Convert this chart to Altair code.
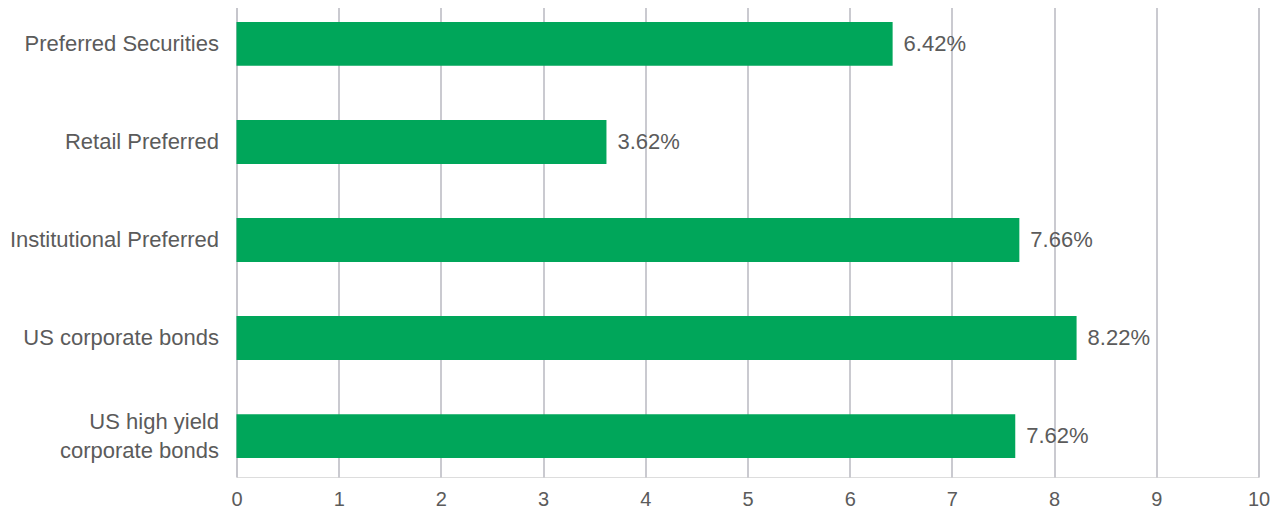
import altair as alt
import pandas as pd

categories = ["Preferred Securities", "Retail Preferred", "Institutional Preferred",
              "US corporate bonds", "US high yield|corporate bonds"]
values = [6.42, 3.62, 7.66, 8.22, 7.62]
x_ticks = [0, 1, 2, 3, 4, 5, 6, 7, 8, 9, 10]

df = pd.DataFrame({"category": categories, "value": values})
df["label"] = [f"{v:.2f}%" for v in values]

FONT = "Liberation Sans"
TEXT = "#5b5b5b"

y_enc = alt.Y("category:N", sort=categories, title=None,
              scale=alt.Scale(paddingInner=0.552, paddingOuter=0.193),
              axis=alt.Axis(labelExpr="split(datum.label, '|')", labelFontSize=22,
                            labelFont=FONT, labelColor=TEXT, labelPadding=18,
                            labelLineHeight=29, ticks=False, domain=False, grid=False,
                            labelLimit=400,
                            labelOffset={"condition": {"test": "indexof(datum.value, '|') >= 0",
                                                       "value": -14.5},
                                         "value": 0}))
x_enc = alt.X("value:Q", title=None,
              scale=alt.Scale(domain=[0, 10], nice=False),
              axis=alt.Axis(values=x_ticks, format="d", labelFontSize=20, labelFont=FONT,
                            labelColor=TEXT, ticks=False, domain=False, grid=True,
                            gridColor="#b9b9c1", gridWidth=1.5, labelPadding=12,
                            labelFlush=False))

bars = alt.Chart(df).mark_bar(color="#00a65a").encode(x=x_enc, y=y_enc)
text = alt.Chart(df).mark_text(align="left", baseline="middle", dx=11,
                               fontSize=22, font=FONT, color=TEXT).encode(
    x="value:Q", y=alt.Y("category:N", sort=categories), text="label:N")

chart = (bars + text).properties(
    width=1022, height=474,
    autosize=alt.AutoSizeParams(type="none"),
    padding={"left": 228.5, "top": -5, "right": 13, "bottom": 40},
).configure_view(stroke=None).configure(background="white")

chart.save("out.html", embed_options={"renderer": "svg", "actions": False})
